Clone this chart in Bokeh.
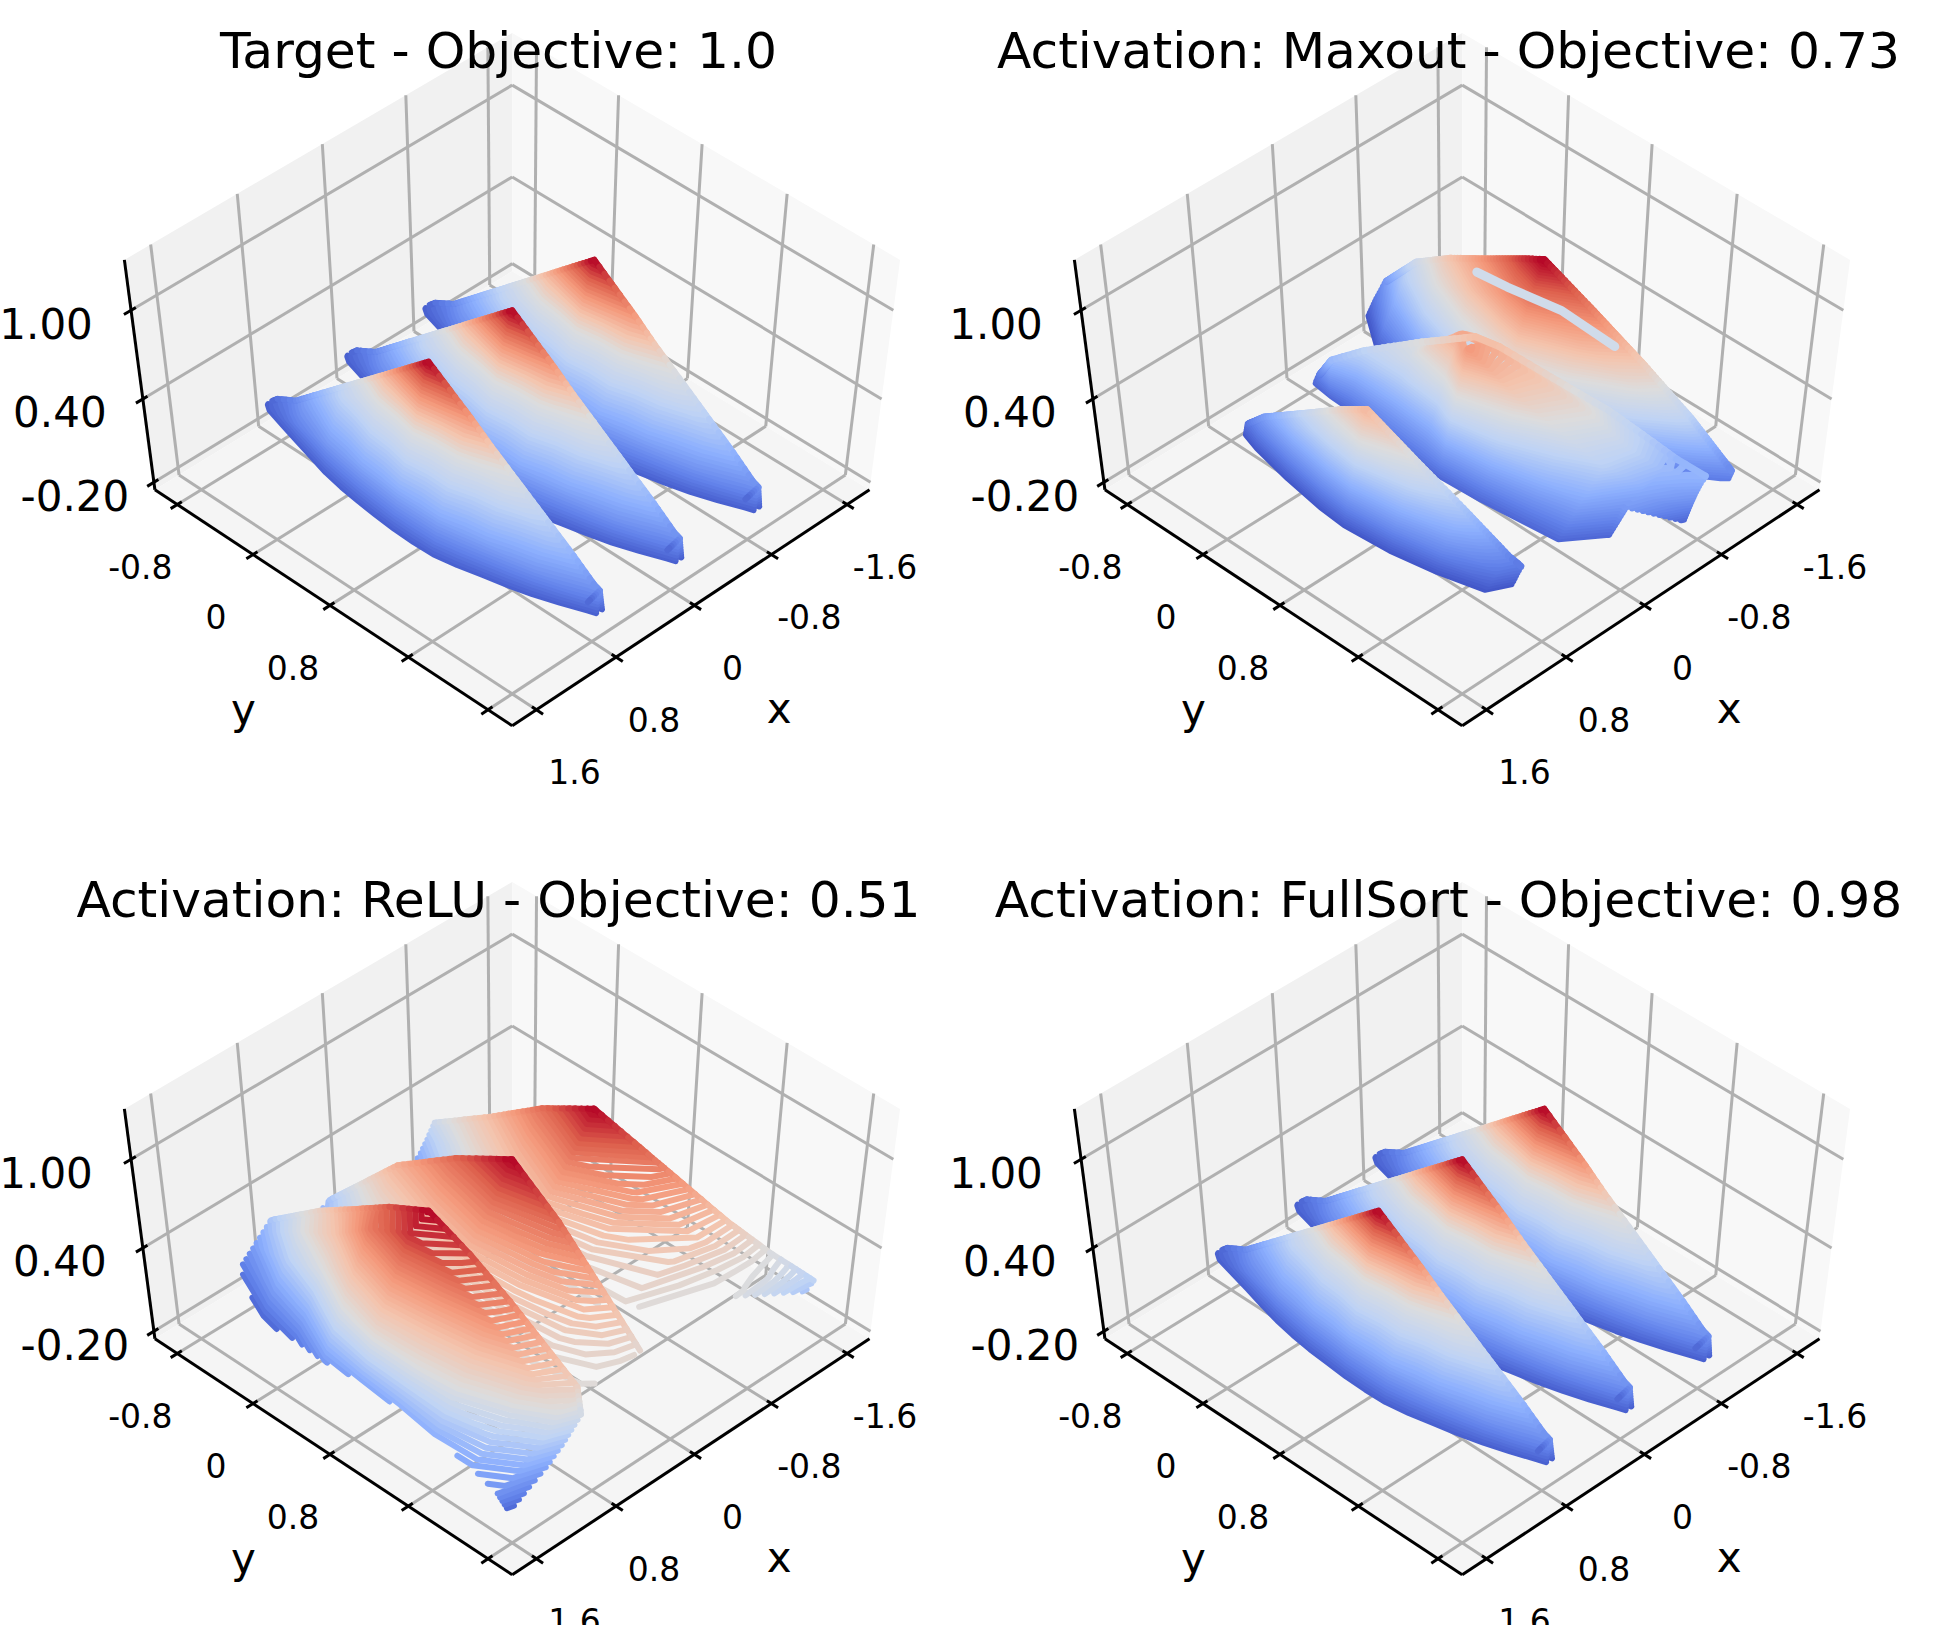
from bokeh.core.properties import value
from bokeh.embed import file_html
from bokeh.layouts import column, row
from bokeh.models import Label, Range1d
from bokeh.plotting import figure
from bokeh.resources import INLINE
from contourpy import contour_generator
import numpy as np

# Axis limits and ticks
x_lim = [-1.84, 1.84]
y_lim = [-1.84, 1.84]
z_lim = [-0.255, 1.325]
x_ticks = [-1.6, -0.8, 0, 0.8, 1.6]
y_ticks = [-1.6, -0.8, 0, 0.8, 1.6]
z_ticks = [-0.2, 0.4, 1.0]
x_tick_labels = ["-1.6", "-0.8", "0", "0.8", "1.6"]
y_tick_labels = ["-0.8", "0", "0.8"]
z_tick_labels = ["-0.20", "0.40", "1.00"]

titles = [
    "Target - Objective: 1.0",
    "Activation: Maxout - Objective: 0.73",
    "Activation: ReLU - Objective: 0.51",
    "Activation: FullSort - Objective: 0.98",
]

# Target and FullSort: one lobe shape, repeated at lobe_starts
lobe_starts = [-0.8, 0.0, 0.8]
lobe_y = [-1.66, -1.6, -1.4, -1.2, -1.0, -0.8, -0.6, -0.4, -0.2, 0, 0.2, 0.4, 0.6, 0.8, 1.0, 1.2, 1.4, 1.6, 1.66, 1.55]
target_width = [0.06, 0.09, 0.14, 0.19, 0.24, 0.29, 0.325, 0.35, 0.37, 0.385, 0.39, 0.385, 0.35, 0.30, 0.255, 0.20, 0.13, 0.05, 0.03, 0.02]
fullsort_width = [0.06, 0.09, 0.135, 0.18, 0.23, 0.275, 0.31, 0.335, 0.35, 0.365, 0.37, 0.365, 0.335, 0.29, 0.245, 0.19, 0.125, 0.05, 0.03, 0.02]
lobe_wrap = [-0.01, -0.01, -0.03, -0.03, -0.03, -0.03, -0.03, -0.03, -0.03, -0.03, -0.03, -0.03, -0.03, -0.03, -0.03, -0.06, -0.10, -0.05, -0.03, -0.02]
lobe_z = [
    [0.01, 0.01, 0.008, 0.006, 0.004, 0],
    [0.05, 0.047, 0.04, 0.03, 0.017, 0],
    [0.125, 0.118, 0.101, 0.083, 0.06, 0],
    [0.25, 0.236, 0.202, 0.165, 0.12, 0],
    [0.375, 0.342, 0.28, 0.22, 0.155, 0],
    [0.50, 0.456, 0.374, 0.295, 0.205, 0],
    [0.625, 0.534, 0.417, 0.315, 0.213, 0],
    [0.75, 0.641, 0.50, 0.378, 0.255, 0],
    [0.875, 0.70, 0.525, 0.385, 0.254, 0],
    [1.0, 0.80, 0.60, 0.44, 0.29, 0],
    [0.90, 0.712, 0.534, 0.392, 0.258, 0],
    [0.80, 0.684, 0.534, 0.404, 0.273, 0],
    [0.69, 0.59, 0.46, 0.348, 0.235, 0],
    [0.59, 0.537, 0.441, 0.348, 0.244, 0],
    [0.49, 0.446, 0.366, 0.288, 0.203, 0],
    [0.39, 0.369, 0.315, 0.257, 0.187, 0],
    [0.29, 0.274, 0.234, 0.191, 0.138, 0],
    [0.18, 0.17, 0.145, 0.119, 0.087, 0],
    [0.16, 0.15, 0.12, 0.08, 0.04, 0],
    [0.02, 0.018, 0.015, 0.012, 0.006, 0],
]

# Maxout lobes, back to front
maxout_back_y = [-1.74, -1.4, -1.0, -0.6, -0.2, 0, 0.4, 0.8, 1.2, 1.54]
maxout_back_x0 = [-0.95, -0.93, -0.88, -0.85, -0.81, -0.8, -0.9, -1.0, -1.1, -1.18]
maxout_back_x1 = [-0.75, -0.52, -0.4, -0.3, -0.3, -0.3, -0.4, -0.6, -0.9, -1.12]
maxout_back_z = [
    [0.08, 0.04, 0.0, -0.05, -0.10],
    [0.36, 0.28, 0.16, 0.05, -0.10],
    [0.57, 0.45, 0.30, 0.10, -0.10],
    [0.74, 0.60, 0.40, 0.15, -0.10],
    [0.92, 0.75, 0.50, 0.20, -0.10],
    [1.00, 0.80, 0.55, 0.25, -0.10],
    [0.78, 0.65, 0.45, 0.20, -0.10],
    [0.55, 0.48, 0.35, 0.15, -0.10],
    [0.30, 0.27, 0.20, 0.10, 0.0],
    [0.05, 0.03, 0.01, 0.0, 0.0],
]
# stray pale streak on the back lobe
maxout_streak_x = [-1.17, -1.2, -1.28, -1.25]
maxout_streak_y = [-1.02, -0.74, -0.27, 0.29]
maxout_streak_z = [0.35, 0.35, 0.35, 0.35]

maxout_mid_y = [-1.39, -1.21, -1.0, -0.6, -0.2, 0, 0.4, 0.8, 1.1, 1.32, 1.33, 1.58]
maxout_mid_x0 = [0.08, 0.12, -0.01, -0.2, -0.33, -0.37, -0.5, -0.66, -0.75, -0.82, -0.82, -0.85]
maxout_mid_x1 = [0.12, 0.14, 0.15, 0.21, 0.23, 0.23, 0.21, 0.17, 0.14, -0.15, -0.3, -0.65]
maxout_mid_z = [
    [0.0, -0.01, -0.02, -0.03, -0.05],
    [0.20, 0.14, 0.08, 0.02, -0.05],
    [0.30, 0.25, 0.15, 0.05, -0.05],
    [0.45, 0.40, 0.28, 0.10, -0.05],
    [0.60, 0.68, 0.45, 0.18, -0.05],
    [0.60, 0.68, 0.72, 0.35, -0.05],
    [0.50, 0.58, 0.55, 0.28, -0.05],
    [0.38, 0.46, 0.40, 0.20, -0.05],
    [0.28, 0.33, 0.30, 0.14, -0.05],
    [0.20, 0.22, 0.18, 0.08, -0.05],
    [0.20, 0.22, 0.18, 0.14, 0.10],
    [0.18, 0.15, 0.10, 0.03, -0.05],
]
maxout_front_y = [-1.37, -1.2, -0.8, -0.4, -0.13, 0.3, 0.7, 1.08, 1.17]
maxout_front_x0 = [0.82, 0.81, 0.81, 0.8, 0.8, 0.74, 0.69, 0.62, 0.585]
maxout_front_x1 = [0.85, 0.9, 0.98, 1.04, 1.06, 1.03, 0.96, 0.87, 0.7]
maxout_front_z = [
    [-0.02, -0.04, -0.06, -0.08, -0.10],
    [0.10, 0.06, 0.02, -0.03, -0.10],
    [0.30, 0.24, 0.14, 0.03, -0.10],
    [0.50, 0.38, 0.24, 0.08, -0.10],
    [0.62, 0.46, 0.28, 0.10, -0.10],
    [0.42, 0.34, 0.22, 0.08, -0.10],
    [0.25, 0.20, 0.13, 0.04, -0.10],
    [0.05, 0.03, 0.0, -0.05, -0.10],
    [0.0, -0.02, -0.05, -0.08, -0.10],
]

# ReLU lobes, back to front
relu_back_y = [-1.54, -1.0, -0.5, 0, 0.5, 1.0, 1.3, 1.45, 1.6]
relu_back_x0 = [-0.745, -0.77, -0.8, -0.8, -0.97, -1.14, -1.27, -1.34, -1.42]
relu_back_x1 = [-0.45, -0.1, 0.0, 0.05, 0.05, 0.0, -0.6, -0.73, -1.34]
relu_back_z = [
    [0.30, 0.22, 0.15, 0.10, 0.05],
    [0.55, 0.42, 0.30, 0.22, 0.15],
    [0.80, 0.62, 0.46, 0.33, 0.25],
    [1.00, 0.78, 0.60, 0.45, 0.35],
    [0.76, 0.68, 0.55, 0.45, 0.38],
    [0.52, 0.52, 0.48, 0.44, 0.40],
    [0.38, 0.39, 0.39, 0.39, 0.38],
    [0.32, 0.34, 0.36, 0.37, 0.38],
    [0.25, 0.24, 0.23, 0.22, 0.21],
]
relu_mid_y = [-1.55, -1.0, -0.5, 0, 0.5, 1.0, 1.45]
relu_mid_x0 = [0.31, 0.14, 0.05, 0.0, 0.05, 0.12, 0.2]
relu_mid_x1 = [0.8, 0.8, 0.8, 0.8, 0.8, 0.85, 0.9]
relu_mid_z = [
    [0.20, 0.15, 0.10, 0.05, 0.0],
    [0.60, 0.45, 0.30, 0.18, 0.08],
    [0.82, 0.65, 0.48, 0.33, 0.20],
    [1.00, 0.78, 0.60, 0.45, 0.35],
    [0.82, 0.68, 0.55, 0.45, 0.38],
    [0.60, 0.55, 0.48, 0.42, 0.38],
    [0.42, 0.41, 0.40, 0.39, 0.38],
]
relu_front_y = [-1.68, -1.2, -0.8, -0.4, 0, 0.4, 0.8, 1.2, 1.47, 1.55]
relu_front_x0 = [0.77, 0.72, 0.76, 0.79, 0.8, 0.8, 0.82, 0.83, 0.84, 0.88]
relu_front_x1 = [1.1, 1.35, 1.38, 1.48, 1.49, 1.52, 1.57, 1.6, 1.61, 1.58]
relu_front_z = [
    [0.20, 0.15, 0.10, 0.05, 0.0],
    [0.45, 0.38, 0.25, 0.10, -0.05],
    [0.65, 0.55, 0.38, 0.18, 0.0],
    [0.85, 0.78, 0.55, 0.32, 0.08],
    [1.00, 0.93, 0.68, 0.45, 0.12],
    [0.88, 0.84, 0.60, 0.40, 0.13],
    [0.75, 0.71, 0.50, 0.32, 0.14],
    [0.58, 0.54, 0.34, 0.22, 0.12],
    [0.47, 0.36, 0.22, 0.12, 0.06],
    [0.33, 0.20, 0.10, 0.03, -0.05],
]

# matplotlib's coolwarm, stops
coolwarm_t = [0, 0.125, 0.25, 0.375, 0.5, 0.625, 0.75, 0.875, 1]
coolwarm_r = [58, 98, 141, 192, 221, 245, 244, 222, 180]
coolwarm_g = [76, 130, 176, 212, 221, 196, 152, 96, 4]
coolwarm_b = [192, 234, 254, 245, 221, 173, 122, 77, 38]

# View of the 3d box: elevation 55, azimuth 45, dist 10, on a 4:3 box
ELEV = np.radians(55)
DIST = 10.0
SX, SY = 526.0, 400.0
CX, CY = 511.7, 379.0


def project(x, y, z):
    bx = (np.asarray(x, float) - x_lim[0]) / (x_lim[1] - x_lim[0]) - 0.5
    by = (np.asarray(y, float) - y_lim[0]) / (y_lim[1] - y_lim[0]) - 0.5
    bz = (np.asarray(z, float) - z_lim[0]) / (z_lim[1] - z_lim[0]) - 0.5
    s, c = np.sin(ELEV), np.cos(ELEV)
    u = (by - bx) / np.sqrt(2)
    v = -(bx + by) * s / np.sqrt(2) + bz * c
    d = (bx + by) * c / np.sqrt(2) + bz * s
    f = DIST / (DIST - d)
    return CX + SX * u * f, CY - SY * v * f


def coolwarm(t):
    r = int(np.interp(t, coolwarm_t, coolwarm_r))
    g = int(np.interp(t, coolwarm_t, coolwarm_g))
    b = int(np.interp(t, coolwarm_t, coolwarm_b))
    return "#%02x%02x%02x" % (r, g, b)


def segment(p3d):
    xs, ys = [], []
    for a, b in p3d:
        px, py = project([a[0], b[0]], [a[1], b[1]], [a[2], b[2]])
        xs.append(list(px))
        ys.append(list(py))
    return xs, ys


def add_box(p):
    xa, xb = x_lim
    ya, yb = y_lim
    za, zb = z_lim
    # panes
    panes = [
        ([xa, xb, xb, xa], [ya, ya, ya, ya], [za, za, zb, zb], "#f1f1f1"),
        ([xa, xa, xa, xa], [ya, yb, yb, ya], [za, za, zb, zb], "#f8f8f8"),
        ([xa, xb, xb, xa], [ya, ya, yb, yb], [za, za, za, za], "#f5f5f5"),
    ]
    for px, py, pz, col in panes:
        sx, sy = project(px, py, pz)
        p.patch(list(sx), list(sy), fill_color=col, line_color=None)

    # grid
    grid = []
    for t in x_ticks:
        grid.append(((t, yb, za), (t, ya, za)))
        grid.append(((t, ya, za), (t, ya, zb)))
    for t in y_ticks:
        grid.append(((xb, t, za), (xa, t, za)))
        grid.append(((xa, t, za), (xa, t, zb)))
    for t in z_ticks:
        grid.append(((xb, ya, t), (xa, ya, t)))
        grid.append(((xa, ya, t), (xa, yb, t)))
    gx, gy = segment(grid)
    p.multi_line(gx, gy, line_color="#b0b0b0", line_width=3)

    # axes and ticks
    dx = (xb - xa) * 0.018
    dy = (yb - ya) * 0.018
    ix = (xb - xa) * 0.012
    iy = (yb - ya) * 0.012
    ax = [((xa, yb, za), (xb, yb, za)), ((xb, ya, za), (xb, yb, za)), ((xb, ya, za), (xb, ya, zb))]
    for t in x_ticks:
        ax.append(((t, yb - iy, za), (t, yb + dy, za)))
    for t in y_ticks:
        ax.append(((xb - ix, t, za), (xb + dx, t, za)))
    for t in z_ticks:
        ax.append(((xb - ix, ya, t), (xb + dx, ya, t)))
    ax_x, ax_y = segment(ax)
    p.multi_line(ax_x, ax_y, line_color="black", line_width=3)

    # tick labels
    font = value("DejaVu Sans")
    tx, ty = project(x_ticks, [yb] * 5, [za] * 5)
    p.text(tx + 38, ty + 62, text=x_tick_labels, text_font=font, text_font_size="33px",
           text_align="center", text_baseline="middle", text_color="black")
    ty_x, ty_y = project([xb] * 3, y_ticks[:3], [za] * 3)
    p.text(ty_x - 37, ty_y + 62, text=y_tick_labels, text_font=font, text_font_size="33px",
           text_align="center", text_baseline="middle", text_color="black")
    tz_x, tz_y = project([xb] * 3, [ya] * 3, z_ticks)
    p.text(tz_x + np.array([-79, -83, -85]), tz_y + 13, text=z_tick_labels, text_font=font,
           text_font_size="42px", text_align="center", text_baseline="middle", text_color="black")
    # axis labels
    lx, ly = project([0.8, xb], [yb, 0.8], [za, za])
    p.text([lx[0] + 163, lx[1] - 165], [ly[0] + 51, ly[1] + 52], text=["x", "y"], text_font=font,
           text_font_size="42px", text_align="center", text_baseline="middle", text_color="black")


def add_lobes(p, lobes, z_min, z_max, color_min, color_mid, n_levels, line_w, streak=None):
    levels = np.linspace(z_min + 0.005, z_max - 0.005, n_levels)
    step = levels[1] - levels[0]

    def color_of(z):
        return coolwarm(np.interp(z, [color_min, color_mid, z_max], [0, 0.5, 1]))

    for i, (gx, gy, gz, edge) in enumerate(lobes):
        gen = contour_generator(x=gx, y=gy, z=gz)
        xs, ys, cols = [], [], []
        for lev in levels:
            col = color_of(lev)
            for pts in gen.lines(lev):
                px, py = project(pts[:, 0], pts[:, 1], np.full(len(pts), lev))
                xs.append(list(px))
                ys.append(list(py))
                cols.append(col)
        # the crest of the lobe, in short pieces so it takes the colours of the levels
        rx, ry, rz = gx[:, edge], gy[:, edge], gz[:, edge]
        for j in range(len(rx) - 1):
            n = max(1, int(abs(rz[j + 1] - rz[j]) / step))
            for k in range(n):
                a, b = k / n, (k + 1) / n
                pa = (1 - a) * np.array([rx[j], ry[j], rz[j]]) + a * np.array([rx[j + 1], ry[j + 1], rz[j + 1]])
                pb = (1 - b) * np.array([rx[j], ry[j], rz[j]]) + b * np.array([rx[j + 1], ry[j + 1], rz[j + 1]])
                if (pa[2] + pb[2]) / 2 < z_min:
                    continue
                px, py = project([pa[0], pb[0]], [pa[1], pb[1]], [pa[2], pb[2]])
                xs.append(list(px))
                ys.append(list(py))
                cols.append(color_of((pa[2] + pb[2]) / 2))
        p.multi_line(xs, ys, line_color=cols, line_width=line_w, line_join="round", line_cap="round")
        if streak is not None and i == 0:
            sx, sy = project(*streak)
            p.line(list(sx), list(sy), line_color="#d0dbea", line_width=9, line_join="round", line_cap="round")


def shared_lobes(width):
    t = np.linspace(0, 1, len(lobe_z[0]))
    zs = np.column_stack([np.zeros(len(lobe_y)), np.array(lobe_z)])
    local = np.column_stack([np.array(lobe_wrap), np.array(width)[:, None] * t])
    gy = np.repeat(np.array(lobe_y, float)[:, None], zs.shape[1], axis=1)
    return [(local + start, gy, zs, 1) for start in lobe_starts]


def table_lobe(y_rows, x0, x1, z_rows):
    z = np.array(z_rows)
    t = np.linspace(0, 1, z.shape[1])
    gx = np.array(x0)[:, None] + (np.array(x1) - np.array(x0))[:, None] * t
    gy = np.repeat(np.array(y_rows, float)[:, None], z.shape[1], axis=1)
    return gx, gy, z, 0


panels = [
    (shared_lobes(target_width), 0.0, 1.0, -0.06, 0.6, 50, 6.0, None),
    ([table_lobe(maxout_back_y, maxout_back_x0, maxout_back_x1, maxout_back_z),
      table_lobe(maxout_mid_y, maxout_mid_x0, maxout_mid_x1, maxout_mid_z),
      table_lobe(maxout_front_y, maxout_front_x0, maxout_front_x1, maxout_front_z)], -0.12, 1.0, -0.12, 0.45, 80, 7.0,
     (maxout_streak_x, maxout_streak_y, maxout_streak_z)),
    ([table_lobe(relu_back_y, relu_back_x0, relu_back_x1, relu_back_z),
      table_lobe(relu_mid_y, relu_mid_x0, relu_mid_x1, relu_mid_z),
      table_lobe(relu_front_y, relu_front_x0, relu_front_x1, relu_front_z)], -0.1, 1.0, -0.1, 0.38, 50, 6.0, None),
    (shared_lobes(fullsort_width), 0.0, 1.0, -0.06, 0.6, 50, 6.0, None),
]

sizes = [(950, 849), (998, 849), (950, 776), (998, 776)]
figs = []
for title, (lobes, z_min, z_max, color_min, color_mid, n_levels, line_w, streak), (w, h) in zip(titles, panels, sizes):
    p = figure(width=w, height=h, x_range=Range1d(0, w), y_range=Range1d(h, 0),
               x_axis_type=None, y_axis_type=None, toolbar_location=None,
               output_backend="svg", min_border=0, outline_line_color=None,
               background_fill_color="white", border_fill_color="white")
    p.grid.visible = False
    add_box(p)
    add_lobes(p, lobes, z_min, z_max, color_min, color_mid, n_levels, line_w, streak)
    p.add_layout(Label(x=498, y=50, text=title, text_font="DejaVu Sans", text_font_size="50.3px",
                       text_align="center", text_baseline="alphabetic", text_color="black"))
    figs.append(p)

page = column(row(figs[0], figs[1]), row(figs[2], figs[3]))
open("out.html", "w").write(file_html(page, INLINE))
